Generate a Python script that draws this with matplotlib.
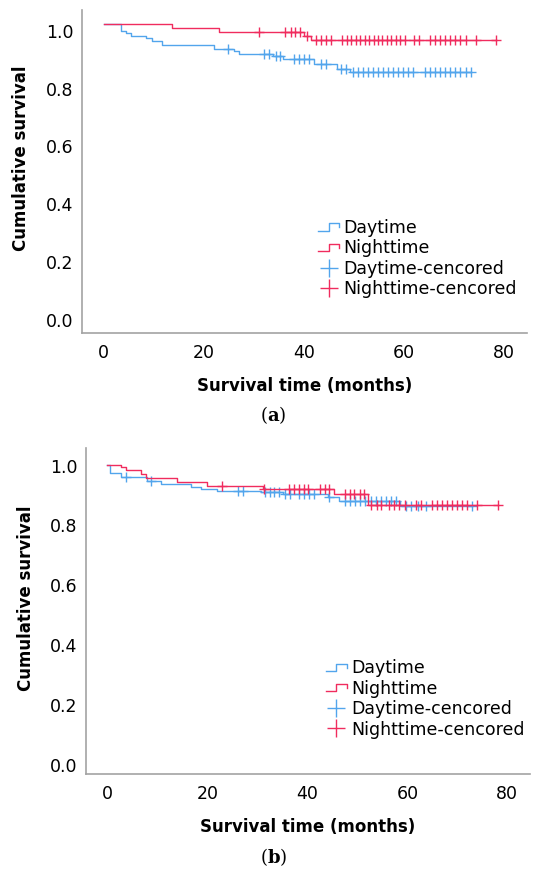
import numpy as np
import matplotlib
matplotlib.use('Agg')
from matplotlib import pyplot as plt
from matplotlib.lines import Line2D
from matplotlib.legend_handler import HandlerBase
import matplotlib.transforms as mtransforms

#%% data (months, cumulative survival)

# panel a
a_day_t = [0, 3.4, 4.5, 5.5, 8.5, 9.6, 11.7, 22.0, 26.0, 27.1, 33.8, 35.8, 42.1, 46.6, 49.1]
a_day_s = [1.0, 0.976, 0.969, 0.961, 0.953, 0.944, 0.930, 0.914, 0.907, 0.899, 0.890, 0.881, 0.864, 0.847, 0.834]
a_day_end = 73.4
a_day_cens = [24.9, 32.1, 33.1, 34.4, 35.3, 38.1, 39.1, 40.1, 41.1, 43.4, 44.4, 47.4, 48.4,
              49.8, 50.8, 51.8, 52.8, 53.8, 54.8, 55.8, 56.8, 57.8, 58.8, 59.8, 60.8, 61.7,
              64.1, 65.1, 66.1, 67.1, 68.1, 69.1, 70.2, 71.2, 72.3, 73.4]

a_night_t = [0, 13.7, 23.0, 40.1, 41.5]
a_night_s = [1.0, 0.987, 0.974, 0.961, 0.945]
a_night_end = 78.4
a_night_cens = [31.0, 36.3, 37.4, 38.3, 39.3, 40.6, 42.4, 43.4, 44.4, 45.4,
                47.6, 48.6, 49.4, 50.3, 51.2, 52.1, 53.0, 53.9, 54.8, 55.6, 56.5, 57.4, 58.4, 59.2, 60.1,
                61.9, 62.9, 65.1, 66.1, 67.1, 68.1, 69.1, 70.1, 71.1, 72.3, 74.3, 78.4]

# panel b
b_day_t = [0, 0.6, 2.7, 8.0, 10.8, 16.8, 18.8, 22.0, 30.8, 35.1, 44.2, 46.3, 58.5]
b_day_s = [1.0, 0.971, 0.957, 0.946, 0.935, 0.925, 0.917, 0.911, 0.908, 0.902, 0.893, 0.879, 0.862]
b_day_end = 72.9
b_day_cens = [3.8, 8.8, 26.2, 27.2, 31.5, 32.5, 33.4, 34.3, 35.6, 36.5, 38.4, 39.4, 40.4, 41.4, 44.4,
              47.5, 48.5, 49.6, 50.6, 51.6, 52.7, 53.7, 54.7, 55.7, 56.8, 57.8,
              59.8, 60.8, 62.1, 63.7, 72.9]

b_night_t = [0, 2.7, 3.7, 6.7, 7.7, 13.9, 20.0, 31.2, 45.3, 52.2]
b_night_s = [1.0, 0.991, 0.983, 0.967, 0.955, 0.942, 0.929, 0.917, 0.903, 0.865]
b_night_end = 78.2
b_night_cens = [22.9, 31.3, 36.3, 37.3, 38.3, 39.3, 40.2, 42.5, 43.5, 44.4,
                47.5, 48.5, 49.4, 50.5, 51.4, 52.7, 53.9, 54.8, 56.4, 57.4, 58.4, 59.5,
                61.7, 62.7, 65.0, 66.0, 66.9, 67.9, 68.9, 69.9, 70.9, 71.9, 73.9, 78.1]

groups = ['Daytime', 'Nighttime']
x_ticks = [0, 20, 40, 60, 80]
y_ticks = [0.0, 0.2, 0.4, 0.6, 0.8, 1.0]

BLUE = '#52a5ec'
RED = '#f02c5e'
GREY = '#a3a3a3'


def km_draw(ax, t, s, t_end, cens, color, z):
    t = np.array(t)
    s = np.array(s)
    ax.step(np.append(t, t_end), np.append(s, s[-1]), where='post', color=color, lw=1.0, zorder=z)
    cy = s[np.searchsorted(t, cens, side='right') - 1]
    ax.plot(cens, cy, ls='none', marker='+', ms=6.5, mew=1.0, color=color, zorder=z)


class StepHandler(HandlerBase):
    # little square-wave icon that SPSS uses for the survival lines
    def create_artists(self, legend, orig, xd, yd, w, h, fs, trans):
        xs = np.array([0.0, 0.5, 0.5, 1.0, 1.0]) * w - xd
        ys = np.array([0.2, 0.2, 0.8, 0.8, 0.45]) * h - yd
        ln = Line2D(xs, ys, color=orig.get_color(), lw=1.0)
        ln.set_transform(trans)
        return [ln]


def style(ax, ylim, lab_shift, label_x, label_y):
    ax.set_xlim(-4.3, 84.5)
    ax.set_ylim(*ylim)
    ax.set_xticks(x_ticks)
    ax.set_yticks(y_ticks)
    ax.set_yticklabels(['%.1f' % v for v in y_ticks])
    for sp in ['top', 'right']:
        ax.spines[sp].set_visible(False)
    for sp in ['left', 'bottom']:
        ax.spines[sp].set_color(GREY)
        ax.spines[sp].set_linewidth(1.2)
    ax.tick_params(axis='both', length=0, labelsize=12.5)
    ax.tick_params(axis='x', pad=8)
    ax.tick_params(axis='y', pad=6)
    ax.set_xlabel('Survival time (months)', fontsize=12, fontweight='bold', labelpad=11)
    ax.set_ylabel('Cumulative survival', fontsize=12, fontweight='bold')
    ax.yaxis.set_label_coords(label_x, label_y)
    off = mtransforms.ScaledTranslation(0, -lab_shift / 100, fig.dpi_scale_trans)
    for lb in ax.get_yticklabels():
        lb.set_transform(lb.get_transform() + off)


def legend(ax, anchor):
    h = [Line2D([], [], color=BLUE), Line2D([], [], color=RED),
         Line2D([], [], ls='none', marker='+', ms=13, mew=1.0, color=BLUE),
         Line2D([], [], ls='none', marker='+', ms=13, mew=1.0, color=RED)]
    labels = groups + [g + '-cencored' for g in groups]
    ax.legend(h, labels, loc='upper left', bbox_to_anchor=anchor, frameon=False,
              fontsize=12.5, handlelength=1.25, handletextpad=0.2, labelspacing=0.14,
              borderpad=0, borderaxespad=0,
              handler_map={h[0]: StepHandler(), h[1]: StepHandler()})


fig = plt.figure(figsize=(5.36, 8.74), dpi=100)

#%% (a)
ax1 = fig.add_axes([0.153, 0.619, 0.830, 0.3696])
km_draw(ax1, a_day_t, a_day_s, a_day_end, a_day_cens, BLUE, 2)
km_draw(ax1, a_night_t, a_night_s, a_night_end, a_night_cens, RED, 3)
style(ax1, (-0.069, 1.05), 6.5, -0.117, 0.54)
legend(ax1, (0.53, 0.353))

#%% (b)
ax2 = fig.add_axes([0.1604, 0.1144, 0.828, 0.373])
km_draw(ax2, b_day_t, b_day_s, b_day_end, b_day_cens, BLUE, 2)
km_draw(ax2, b_night_t, b_night_s, b_night_end, b_night_cens, RED, 3)
style(ax2, (-0.032, 1.055), 1.0, -0.115, 0.54)
legend(ax2, (0.54, 0.352))

fig.text(0.51, 1 - 415 / 874, r'($\mathbf{a}$)', ha='center', va='center', fontsize=13,
         family='DejaVu Serif', math_fontfamily='dejavuserif')
fig.text(0.51, 1 - 857 / 874, r'($\mathbf{b}$)', ha='center', va='center', fontsize=13,
         family='DejaVu Serif', math_fontfamily='dejavuserif')

fig.savefig('out.png', dpi=100)
